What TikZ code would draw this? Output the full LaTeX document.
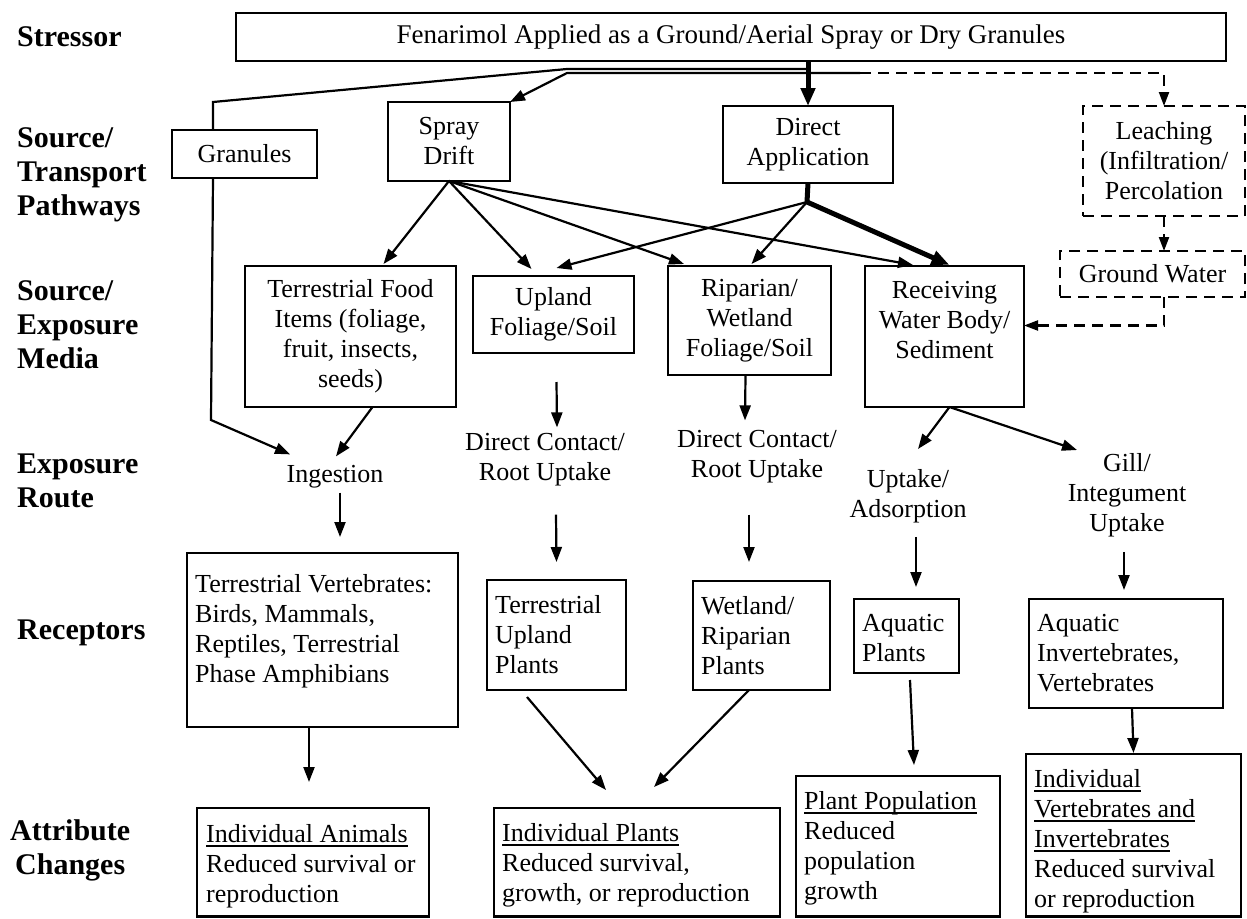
\documentclass[tikz,border=0pt]{standalone}
\usepackage{fontspec}
\setmainfont{Liberation Serif}
\usetikzlibrary{arrows.meta,calc}
\newcommand\uln[1]{\setbox0\hbox{#1}\leavevmode\rlap{\vrule height -3pt depth 4.6pt width \wd0}\box0}
\newcommand\bx[7]{\node[box,#6,minimum width={#4-#2},minimum height={#5-#3}] (#1) at ({(#2+#4)/2},{(#3+#5)/2}) {#7};}
\begin{document}
\begin{tikzpicture}[x=1pt,y=-1pt,
  box/.style={draw, line width=2.2pt, fill=white, inner sep=0pt, outer sep=0pt, align=center, font=\fontsize{26}{30}\selectfont},
  dbox/.style={dash pattern=on 11pt off 7pt},
  txt/.style={font=\fontsize{26}{30}\selectfont, inner sep=0pt, align=center},
  ltxt/.style={font=\fontsize{26}{30}\selectfont, inner sep=0pt, align=left, anchor=north west},
  lab/.style={font=\fontsize{30}{34}\selectfont\bfseries, inner sep=0pt, align=left, anchor=west},
  ln/.style={line width=2.2pt},
  arr/.style={ln, -{Triangle[length=15pt,width=11pt]}},
  dsh/.style={line width=2.2pt, dash pattern=on 11pt off 7pt, -{Triangle[length=14pt,width=10pt]}},
  thk/.style={line width=5pt, -{Triangle[length=18pt,width=14pt]}},
]
\useasboundingbox (0,0) rectangle (1247,918);

% row labels
\node[lab] (lstress) at (17,37) {Stressor};
\node[lab] (lsource) at (17,175) {Source/\\Transport\\Pathways};
\node[lab] (lmedia) at (17,325) {Source/\\Exposure\\Media};
\node[lab] (lroute) at (17,481) {Exposure\\Route};
\node[lab] (lrec) at (17,633) {Receptors};
\node[lab, align=center] (lattr) at (10,850) {Attribute\\Changes};

% boxes
\bx{stressor}{236}{13}{1226}{61}{font=\fontsize{27}{31}\selectfont}{Fenarimol Applied as a Ground/Aerial Spray or Dry Granules}
\bx{granules}{172}{130}{317}{178}{}{Granules}
\bx{spray}{388}{102}{510}{181}{}{Spray\\Drift}
\bx{direct}{723}{106}{893}{183}{}{Direct\\Application}
\bx{leach}{1083}{106}{1245}{216}{dbox}{Leaching\\(Infiltration/\\Percolation}
\bx{gw}{1060}{251}{1245}{297}{dbox}{Ground Water}
\bx{tfood}{245}{266}{456}{407}{}{Terrestrial Food\\Items (foliage,\\fruit, insects,\\seeds)}
\bx{upland}{473}{276}{634}{353}{}{Upland\\Foliage/Soil}
\bx{riparian}{668}{266}{831}{375}{}{Riparian/\\Wetland\\Foliage/Soil}
\bx{receiving}{865}{266}{1024}{407}{}{}
\node[txt, anchor=north] (receivingt) at ([yshift=-15pt]receiving.north) {Receiving\\Water Body/\\Sediment};

% exposure routes
\node[txt] (ing) at (335,477) {Ingestion};
\node[txt] (dc1) at (545,460) {Direct Contact/\\Root Uptake};
\node[txt] (dc2) at (757,457) {Direct Contact/\\Root Uptake};
\node[txt] (upt) at (908,496) {Uptake/\\Adsorption};
\node[txt] (gill) at (1127,495) {Gill/\\Integument\\Uptake};

% receptors
\bx{tvert}{187}{553}{458}{727}{}{}
\node[ltxt] (tvertt) at ([xshift=8pt,yshift=-21pt]tvert.north west) {Terrestrial Vertebrates:\\Birds, Mammals,\\Reptiles, Terrestrial\\Phase Amphibians};
\bx{tplants}{487}{580}{626}{690}{}{}
\node[ltxt] (tplantst) at ([xshift=8pt,yshift=-15pt]tplants.north west) {Terrestrial\\Upland\\Plants};
\bx{wplants}{693}{581}{830}{690}{}{}
\node[ltxt] (wplantst) at ([xshift=8pt,yshift=-15pt]wplants.north west) {Wetland/\\Riparian\\Plants};
\bx{aplants}{854}{599}{959}{673}{}{}
\node[ltxt] (aplantst) at ([xshift=8pt,yshift=-15pt]aplants.north west) {Aquatic\\Plants};
\bx{ainv}{1029}{599}{1223}{708}{}{}
\node[ltxt] (ainvt) at ([xshift=8pt,yshift=-15pt]ainv.north west) {Aquatic\\Invertebrates,\\Vertebrates};

% attribute changes
\bx{ianimals}{197}{808}{429}{916.5}{}{}
\node[ltxt] (ianimalst) at ([xshift=9pt,yshift=-16pt]ianimals.north west) {\uln{Individual Animals}\\Reduced survival or\\reproduction};
\bx{iplants}{494}{808}{780}{916.5}{}{}
\node[ltxt] (iplantst) at ([xshift=8pt,yshift=-15pt]iplants.north west) {\uln{Individual Plants}\\Reduced survival,\\growth, or reproduction};
\bx{ppop}{796}{776}{1000}{916.5}{}{}
\node[ltxt] (ppopt) at ([xshift=8pt,yshift=-15pt]ppop.north west) {\uln{Plant Population}\\Reduced\\population\\growth};
\bx{iverts}{1026}{754}{1241}{916.5}{}{}
\node[ltxt] (ivertst) at ([xshift=8pt,yshift=-15pt]iverts.north west) {\uln{Individual}\\\uln{Vertebrates and}\\\uln{Invertebrates}\\Reduced survival\\or reproduction};

% junction coordinates
\coordinate (ja) at (808,69);
\coordinate (j1) at (567,69);
\coordinate (g1) at (213,102);
\coordinate (jb) at (860,73);
\coordinate (j2) at (567,73);
\coordinate (g2) at (211,420);
\coordinate (dap) at (807,202);

% stressor connectors
\draw[thk] (direct.north |- stressor.south) -- (direct.north);
\draw[ln] (ja) -- (j1) -- (g1) -- (g1 |- granules.north);
\draw[arr] (jb) -- (j2) -- (spray.north east);
\draw[dsh] (jb) -| (leach.north);
\draw[arr] (g1 |- granules.south) -- (g2) -- ([xshift=-45pt,yshift=11pt]ing.north);

% spray drift
\draw[arr] (spray.south) -- ([xshift=33pt,yshift=2pt]tfood.north);
\draw[arr] (spray.south) -- ([xshift=-22pt,yshift=7pt]upland.north);
\draw[arr] (spray.south) -- ([xshift=16pt,yshift=2pt]riparian.north west);
\draw[arr] (spray.south) -- ([xshift=48pt,yshift=1pt]receiving.north west);

% direct application
\draw[line width=5pt] (direct.south) -- (dap);
\draw[arr] (dap) -- ([xshift=3pt,yshift=8pt]upland.north);
\draw[arr] (dap) -- ([xshift=2pt,yshift=2pt]riparian.north);
\draw[thk] (dap) -- ([xshift=5pt,yshift=1pt]receiving.north);

% leaching / ground water
\draw[dsh] (leach.south) -- (leach.south |- gw.north);
\draw[dsh] (leach.south |- gw.south) |- ([yshift=11pt]receiving.east);

% media -> routes
\draw[arr] ([xshift=22pt]tfood.south) -- ([xshift=1pt,yshift=9pt]ing.north);
\draw[arr] ([xshift=3pt,yshift=-29pt]upland.south) -- ([xshift=12pt,yshift=6pt]dc1.north);
\draw[arr] ([xshift=-4pt]riparian.south) -- ([xshift=-12pt,yshift=10pt]dc2.north);
\draw[arr] ([xshift=5pt]receiving.south) -- ([xshift=10pt,yshift=20pt]upt.north);
\draw[arr] ([xshift=5pt]receiving.south) -- ([xshift=-50pt,yshift=3pt]gill.north);

% routes -> receptors
\draw[arr] ([xshift=5pt,yshift=-4pt]ing.south) -- ([xshift=17.5pt,yshift=16pt]tvert.north);
\draw[arr] ([xshift=11pt,yshift=-28pt]dc1.south) -- ([yshift=18pt]tplants.north);
\draw[arr] ([xshift=-8pt,yshift=-31pt]dc2.south) -- ([xshift=-12.5pt,yshift=19pt]wplants.north);
\draw[arr] ([xshift=8pt,yshift=-14pt]upt.south) -- ([xshift=9.5pt,yshift=12pt]aplants.north);
\draw[arr] ([xshift=-3pt,yshift=-15pt]gill.south) -- ([xshift=-2pt,yshift=9pt]ainv.north);

% receptors -> attribute changes
\draw[arr] ([xshift=-13.5pt]tvert.south) -- ([xshift=-4pt,yshift=26pt]ianimals.north);
\draw[arr] ([xshift=-29.5pt,yshift=-7pt]tplants.south) -- ([xshift=-31pt,yshift=18pt]iplants.north);
\draw[arr] ([xshift=-12.5pt]wplants.south) -- ([xshift=17pt,yshift=21pt]iplants.north);
\draw[arr] ([xshift=3.5pt,yshift=-7pt]aplants.south) -- ([xshift=16pt,yshift=11pt]ppop.north);
\draw[arr] ([xshift=6pt]ainv.south) -- ([yshift=1pt]iverts.north);
\end{tikzpicture}
\end{document}
